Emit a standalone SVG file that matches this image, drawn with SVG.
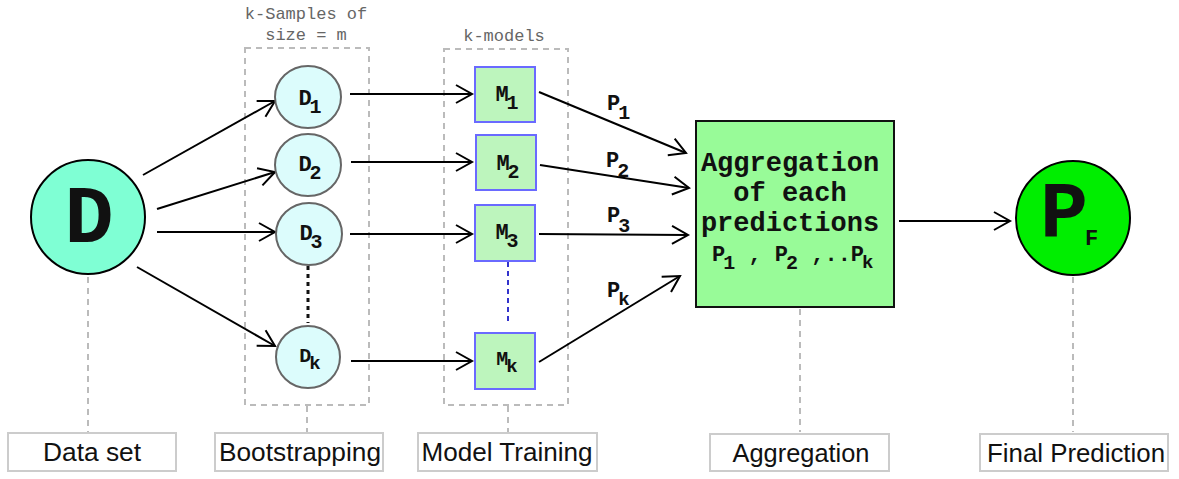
<svg xmlns="http://www.w3.org/2000/svg" width="1179" height="479" viewBox="0 0 1179 479">
<style>
.mono{font-family:"Courier New","Nimbus Mono PS","FreeMono","Liberation Mono",monospace;font-weight:bold;fill:#111}
.cap{font-family:"Courier New","Nimbus Mono PS","Liberation Mono",monospace;font-size:17px;fill:#666}
.lbl{font-family:"Liberation Sans",Arial,sans-serif;font-size:25px;fill:#111;text-anchor:middle}
.lblbox{fill:#fff;stroke:#ccc;stroke-width:2}
.guide{stroke:#bbb;stroke-width:2;stroke-dasharray:6 5;fill:none}
.grp{fill:none;stroke:#bbb;stroke-width:2;stroke-dasharray:6 5}
.edge{stroke:#000;stroke-width:2;fill:none;marker-end:url(#open)}
.sample{fill:#dcfcfc;stroke:#666;stroke-width:2}
.model{fill:#bdf5bd;stroke:#6a6aff;stroke-width:2}
</style>
<defs>
<marker id="open" markerUnits="userSpaceOnUse" markerWidth="26" markerHeight="26" refX="21" refY="13" orient="auto">
<path d="M5,4 L21,13 L5,22" fill="none" stroke="#000" stroke-width="2"/>
</marker>
</defs>
<rect width="1179" height="479" fill="#fff"/>

<g id="guides">
<line class="guide" x1="88" y1="277" x2="88" y2="432"/>
<line class="guide" x1="307" y1="406" x2="307" y2="432"/>
<line class="guide" x1="508" y1="406" x2="508" y2="432"/>
<line class="guide" x1="800" y1="309" x2="800" y2="432"/>
<line class="guide" x1="1073" y1="277" x2="1073" y2="432"/>
</g>

<g id="bootstrap-group">
<text class="cap" x="306" y="19" text-anchor="middle">k-Samples of</text>
<text class="cap" x="306" y="40" text-anchor="middle">size = m</text>
<rect class="grp" x="245" y="48" width="124" height="357"/>
</g>
<g id="models-group">
<text class="cap" x="504" y="41" text-anchor="middle">k-models</text>
<rect class="grp" x="444" y="49" width="124" height="356"/>
</g>

<g id="connectors">
<line class="edge" x1="143" y1="175" x2="275" y2="101"/>
<line class="edge" x1="157" y1="209" x2="275" y2="172"/>
<line class="edge" x1="157" y1="232" x2="275" y2="232"/>
<line class="edge" x1="137" y1="267" x2="275" y2="346"/>
<line class="edge" x1="350" y1="94" x2="472" y2="94"/>
<line class="edge" x1="351" y1="162" x2="472" y2="162"/>
<line class="edge" x1="350" y1="234" x2="472" y2="234"/>
<line class="edge" x1="351" y1="361" x2="472" y2="361"/>
<line class="edge" x1="539" y1="92" x2="686" y2="153"/>
<line class="edge" x1="540" y1="165" x2="689" y2="188"/>
<line class="edge" x1="539" y1="234" x2="688" y2="235"/>
<line class="edge" x1="539" y1="362" x2="680" y2="276"/>
<line class="edge" x1="899" y1="221" x2="1010" y2="221"/>
<line x1="308" y1="266" x2="308" y2="323" stroke="#111" stroke-width="3" stroke-dasharray="4 4"/>
<line x1="508" y1="262" x2="508" y2="324" stroke="#3333cc" stroke-width="2" stroke-dasharray="5 4"/>
<text class="mono" font-size="22" x="607" y="110">P<tspan font-size="20" dx="-2" dy="9">1</tspan></text>
<text class="mono" font-size="22" x="606" y="167">P<tspan font-size="20" dx="-2" dy="10">2</tspan></text>
<text class="mono" font-size="22" x="607" y="222">P<tspan font-size="20" dx="-2" dy="10">3</tspan></text>
<text class="mono" font-size="22" x="607" y="297">P<tspan font-size="19" dx="-2" dy="8">k</tspan></text>
</g>

<g id="node-D">
<circle cx="88" cy="217" r="57" fill="#7fffd4" stroke="#000" stroke-width="2"/>
<text class="mono" font-size="82" x="89" y="242" text-anchor="middle">D</text>
</g>

<g id="node-D1">
<ellipse class="sample" cx="308" cy="97" rx="33" ry="31"/>
<text class="mono" font-size="22" x="310" y="105" text-anchor="middle">D<tspan font-size="20" dx="-2" dy="8">1</tspan></text>
</g>
<g id="node-D2">
<ellipse class="sample" cx="308" cy="165" rx="33" ry="31"/>
<text class="mono" font-size="22" x="310" y="171" text-anchor="middle">D<tspan font-size="20" dx="-2" dy="8">2</tspan></text>
</g>
<g id="node-D3">
<ellipse class="sample" cx="309" cy="234" rx="33" ry="31"/>
<text class="mono" font-size="22" x="311" y="240" text-anchor="middle">D<tspan font-size="20" dx="-2" dy="8">3</tspan></text>
</g>
<g id="node-Dk">
<ellipse class="sample" cx="308" cy="357" rx="32" ry="31"/>
<text class="mono" font-size="20" x="310" y="362" text-anchor="middle">D<tspan font-size="19" dx="-2" dy="7">k</tspan></text>
</g>

<g id="node-M1">
<rect class="model" x="475" y="67" width="60" height="55"/>
<text class="mono" font-size="22" x="507" y="101" text-anchor="middle">M<tspan font-size="20" dx="-2" dy="8">1</tspan></text>
</g>
<g id="node-M2">
<rect class="model" x="476" y="135" width="60" height="55"/>
<text class="mono" font-size="22" x="508" y="170" text-anchor="middle">M<tspan font-size="20" dx="-2" dy="8">2</tspan></text>
</g>
<g id="node-M3">
<rect class="model" x="475" y="205" width="60" height="56"/>
<text class="mono" font-size="22" x="507" y="239" text-anchor="middle">M<tspan font-size="20" dx="-2" dy="8">3</tspan></text>
</g>
<g id="node-Mk">
<rect class="model" x="475" y="333" width="60" height="56"/>
<text class="mono" font-size="20" x="507" y="365" text-anchor="middle">M<tspan font-size="19" dx="-2" dy="7">k</tspan></text>
</g>

<g id="node-aggregation">
<rect x="696" y="121" width="198" height="186" fill="#98fb98" stroke="#111" stroke-width="2"/>
<text class="mono" font-size="27" x="790" y="171" text-anchor="middle">Aggregation</text>
<text class="mono" font-size="27" x="790" y="201" text-anchor="middle">of each</text>
<text class="mono" font-size="27" x="790" y="231" text-anchor="middle">predictions</text>
<text class="mono" font-size="22" x="712" y="261">P<tspan font-size="20" dx="-2" dy="8">1</tspan><tspan dy="-8"> , P</tspan><tspan font-size="20" dx="-2" dy="8">2</tspan><tspan dy="-8"> ,..P</tspan><tspan font-size="19" dx="-2" dy="7">k</tspan></text>
</g>

<g id="node-PF">
<circle cx="1073" cy="218" r="57" fill="#00ee00" stroke="#000" stroke-width="2"/>
<text class="mono" font-size="80" x="1069" y="237" text-anchor="middle">P<tspan font-size="22" dx="-3" dy="8">F</tspan></text>
</g>

<g id="label-dataset"><rect class="lblbox" x="8" y="433" width="168" height="38"/><text class="lbl" x="92" y="461" textLength="98" lengthAdjust="spacingAndGlyphs">Data set</text></g>
<g id="label-bootstrapping"><rect class="lblbox" x="215" y="433" width="168" height="38"/><text class="lbl" x="300" y="461" textLength="162" lengthAdjust="spacingAndGlyphs">Bootstrapping</text></g>
<g id="label-training"><rect class="lblbox" x="418" y="433" width="179" height="38"/><text class="lbl" x="507" y="461" textLength="171" lengthAdjust="spacingAndGlyphs">Model Training</text></g>
<g id="label-aggregation"><rect class="lblbox" x="710" y="434" width="179" height="37"/><text class="lbl" x="801" y="462" textLength="137" lengthAdjust="spacingAndGlyphs">Aggregation</text></g>
<g id="label-final"><rect class="lblbox" x="980" y="434" width="188" height="37"/><text class="lbl" x="1076" y="462" textLength="178" lengthAdjust="spacingAndGlyphs">Final Prediction</text></g>
</svg>
